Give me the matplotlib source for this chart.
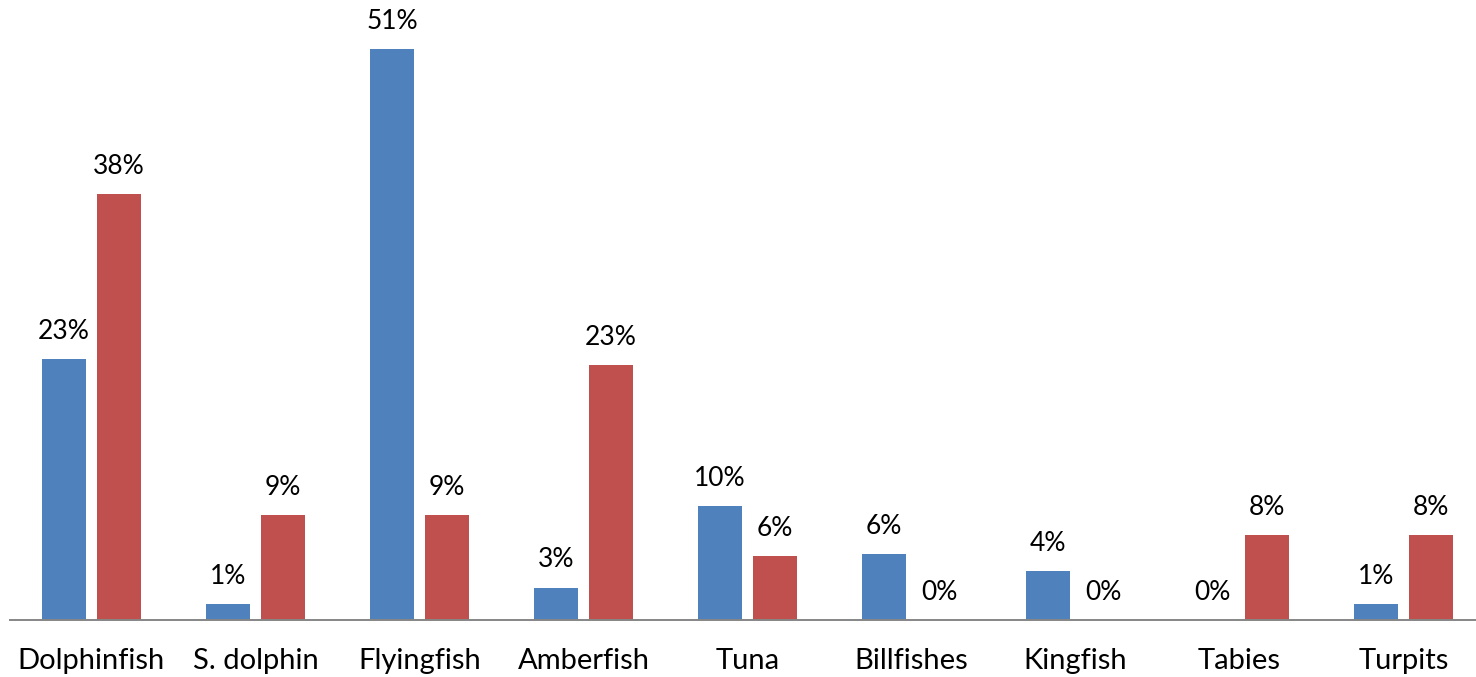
import numpy as np
import matplotlib
matplotlib.use("Agg")
import matplotlib.pyplot as plt

# data (bar heights in %)
categories = ["Dolphinfish", "S. dolphin", "Flyingfish", "Amberfish", "Tuna",
              "Billfishes", "Kingfish", "Tabies", "Turpits"]
series_a = [23.3, 1.4, 51.0, 2.9, 10.2, 5.9, 4.4, 0.0, 1.4]
series_b = [38.0, 9.4, 9.4, 22.8, 5.7, 0.0, 0.0, 7.6, 7.6]

BLUE = "#4F81BD"
RED = "#C0504D"

plt.rcParams['font.family'] = ['Lato', 'DejaVu Sans']

W, H = 1476, 677
fig = plt.figure(figsize=(W / 100, H / 100), dpi=100)
# axes extends a bit past the right edge, like the cropped original
ax = fig.add_axes([9.5 / W, 57 / H, 1476 / W, 620 / H])

x = np.arange(len(categories))
bw = 0.268
off = 0.168
bars_a = ax.bar(x - off, series_a, bw, color=BLUE)
bars_b = ax.bar(x + off, series_b, bw, color=RED)

for bars, vals in ((bars_a, series_a), (bars_b, series_b)):
    for b, v in zip(bars, vals):
        ax.annotate(f"{v:.0f}%", (b.get_x() + b.get_width() / 2, v),
                    xytext=(0, 14.5), textcoords="offset points",
                    ha="center", va="baseline", fontsize=19, color="black")

ax.set_xlim(-0.5, len(categories) - 0.5)
ax.set_ylim(0, 620 / 11.2)
ax.set_xticks(x)
ax.set_xticklabels(categories, fontsize=21)
ax.tick_params(axis="x", length=0, pad=20)
ax.set_yticks([])
for s in ("top", "right", "left"):
    ax.spines[s].set_visible(False)
ax.spines["bottom"].set_color("#868686")
ax.spines["bottom"].set_linewidth(1.4)

fig.savefig("out.png", dpi=100)
